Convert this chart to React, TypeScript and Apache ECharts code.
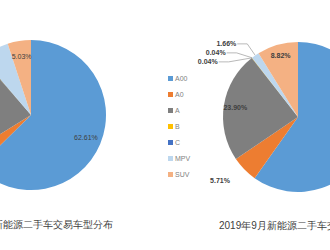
import React, { useEffect, useRef } from "react";
import * as echarts from "echarts";

const categories = ["A00", "A0", "A", "B", "C", "MPV", "SUV"];
const colors = ["#5B9BD5", "#ED7D31", "#7F7F7F", "#FFC000", "#4472C4", "#BDD7EE", "#F4B183"];
// left pie (previous period, partly cropped)
const leftValues = [62.61, 3.5, 22.5, 0.1, 0.06, 6.2, 5.03];
const leftShown = ["A00", "SUV"];
// right pie: 2019年9月
const rightValues = [59.79, 5.71, 23.9, 0.04, 0.04, 1.66, 8.82];
const rightInside = ["A", "SUV"];
const rightOutside = ["A0", "B", "C", "MPV"];
const leftTitle = "2019年9月新能源二手车交易车型分布";
const rightTitle = "2019年9月新能源二手车交易车型分布";

const fmt = (p: any) => Number(p.value).toFixed(2) + "%";
const labelStyle = { fontSize: 7, color: "#404040", fontWeight: "bold" as const, formatter: fmt };

export default function App() {
  const ref = useRef<HTMLDivElement>(null);
  useEffect(() => {
    document.body.style.margin = "0";
    const chart = echarts.init(ref.current!, null, { renderer: "svg" });
    const base = (vals: number[]) =>
      categories.map((n, i) => ({ name: n, value: vals[i], itemStyle: { color: colors[i] } }));

    const leftMain = base(leftValues).map((d) => ({ ...d, label: { show: false } }));
    const leftLabels = base(leftValues).map((d) => ({
      ...d,
      itemStyle: { color: "rgba(0,0,0,0)" },
      label: { show: leftShown.includes(d.name) },
    }));
    const rightMain = base(rightValues).map((d) => ({
      ...d,
      label: { show: rightOutside.includes(d.name) },
      labelLine:
        d.name === "A0"
          ? { show: false, length: 16, length2: 2 }
          : { show: true },
    }));
    const rightLabels = base(rightValues).map((d) => ({
      ...d,
      itemStyle: { color: "rgba(0,0,0,0)" },
      label: { show: rightInside.includes(d.name) },
    }));

    chart.setOption({
      animation: false,
      legend: {
        orient: "vertical",
        left: 163,
        top: 70,
        itemWidth: 5,
        itemHeight: 5,
        itemGap: 9,
        icon: "rect",
        data: categories,
        textStyle: { fontSize: 7, color: "#7F7F7F", padding: [0, 0, 0, -3] },
        selectedMode: false,
      },
      series: [
        {
          type: "pie",
          center: [31, 115],
          radius: [0, 75],
          startAngle: 90,
          clockwise: true,
          silent: true,
          data: leftMain,
          labelLine: { show: false },
        },
        {
          type: "pie",
          center: [31, 115],
          radius: [38, 75],
          startAngle: 90,
          clockwise: true,
          silent: true,
          legendHoverLink: false,
          data: leftLabels,
          label: { position: "inside", ...labelStyle, fontWeight: "normal" },
          labelLine: { show: false },
        },
        {
          type: "pie",
          center: [298, 117],
          radius: [0, 75],
          startAngle: 90,
          clockwise: true,
          silent: true,
          data: rightMain,
          avoidLabelOverlap: true,
          label: { position: "outside", ...labelStyle, distanceToLabelLine: 1 },
          labelLine: { length: 14, length2: 10, lineStyle: { color: "#A6A6A6", width: 0.8 } },
        },
        {
          type: "pie",
          center: [298, 117],
          radius: [46, 75],
          startAngle: 90,
          clockwise: true,
          silent: true,
          data: rightLabels,
          label: { position: "inside", ...labelStyle },
          labelLine: { show: false },
        },
      ],
      graphic: [
        {
          type: "text",
          x: 113,
          y: 224,
          style: { text: leftTitle, fontSize: 10, fill: "#404040", align: "right", verticalAlign: "middle" },
        },
        {
          type: "text",
          x: 219,
          y: 225,
          style: { text: rightTitle, fontSize: 10, fill: "#404040", align: "left", verticalAlign: "middle" },
        },
      ],
    });
    return () => chart.dispose();
  }, []);
  return <div ref={ref} style={{ width: 330, height: 250 }} />;
}
